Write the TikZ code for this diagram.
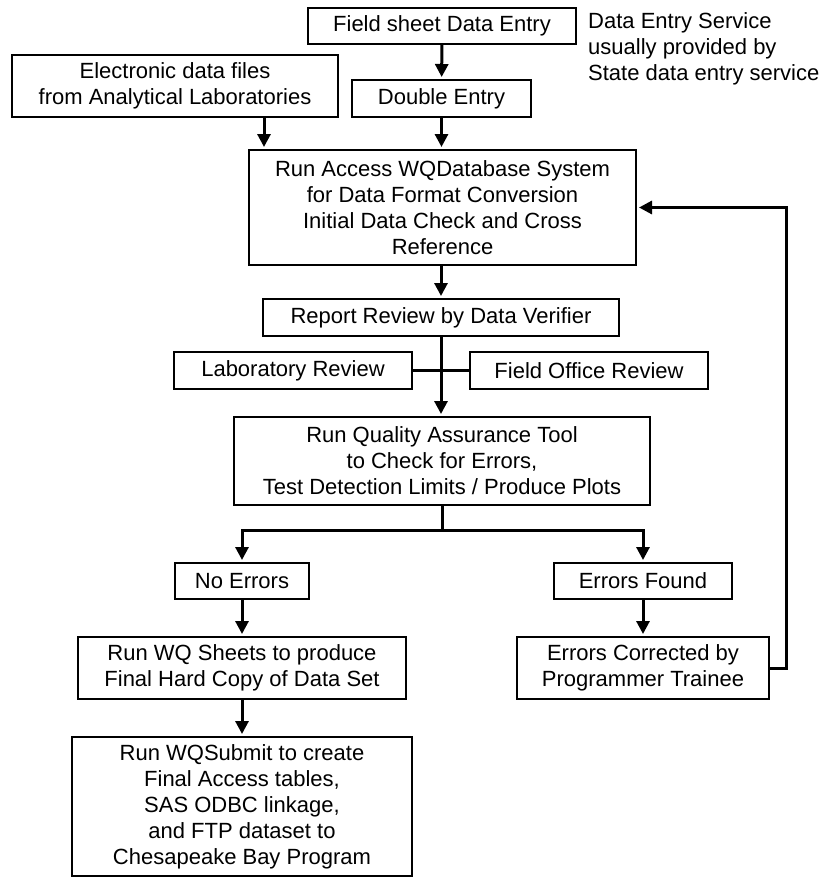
\documentclass[tikz,border=0pt]{standalone}
\usepackage{fontspec}
\setmainfont{Liberation Sans}
\usetikzlibrary{arrows.meta}

\tikzset{
  box/.style={draw, line width=2pt, align=center, inner sep=0pt, font=\fontsize{22}{26}\selectfont},
  arr/.style={line width=3pt, -{Triangle[length=13pt,width=13pt]}, shorten >=2pt},
  link/.style={line width=3pt}
}

\begin{document}
\begin{tikzpicture}[x=1pt, y=-1pt]

\useasboundingbox ( 0, 0 ) rectangle ( 820, 878 );

% Data entry
\node (field) at ( 442, 26 ) [box, minimum width=268pt, minimum height=36pt] {Field sheet Data Entry};
\node (elec) at ( 175, 86 ) [box, minimum width=326pt, minimum height=62pt] {Electronic data files\\from Analytical Laboratories};
\node (double) at ( 441.5, 98.5 ) [box, minimum width=179pt, minimum height=37pt] {Double Entry};
\node (note) at ( 588, 48.5 ) [anchor=west, align=left, inner sep=0pt, font=\fontsize{22}{26}\selectfont] {Data Entry Service\\usually provided by\\State data entry service};

% Database
\node (access) at ( 442.5, 207.5 ) [box, minimum width=387pt, minimum height=115pt] {Run Access WQDatabase System\\for Data Format Conversion\\Initial Data Check and Cross\\Reference};

% Review
\node (report) at ( 441, 317.5 ) [box, minimum width=356pt, minimum height=37pt] {Report Review by Data Verifier};
\node (lab) at ( 293, 370.5 ) [box, minimum width=238pt, minimum height=37pt] {Laboratory Review};
\node (office) at ( 589, 370.5 ) [box, minimum width=238pt, minimum height=37pt] {Field Office Review};

% Quality assurance
\node (qa) at ( 442, 461 ) [box, minimum width=416pt, minimum height=88pt] {Run Quality Assurance Tool\\to Check for Errors,\\Test Detection Limits / Produce Plots};

% Outcomes
\node (noerr) at ( 242, 581 ) [box, minimum width=134pt, minimum height=36pt] {No Errors};
\node (found) at ( 643, 581 ) [box, minimum width=178pt, minimum height=36pt] {Errors Found};
\node (sheets) at ( 242, 668 ) [box, minimum width=328pt, minimum height=62pt] {Run WQ Sheets to produce\\Final Hard Copy of Data Set};
\node (fixed) at ( 643, 668 ) [box, minimum width=252pt, minimum height=62pt] {Errors Corrected by\\Programmer Trainee};
\node (submit) at ( 242, 806.5 ) [box, minimum width=340pt, minimum height=139pt] {Run WQSubmit to create\\Final Access tables,\\SAS ODBC linkage,\\and FTP dataset to\\Chesapeake Bay Program};

% Helper points
\coordinate (elecin) at ([xshift=16pt]access.north west);
\coordinate (split) at ([yshift=-24pt]qa.south);
\coordinate (back) at ([xshift=16pt]fixed.east);

% Flow
\draw [arr] (field) -- (double);
\draw [arr] (elec.south -| elecin) -- (elecin);
\draw [arr] (double.south) -- (double.south |- access.north);
\draw [arr] (report.north |- access.south) -- (report.north);
\draw [link] (lab.east) -- (office.west);
\draw [arr] (report.south) -- (report.south |- qa.north);
\draw [link] (qa.south) -- (split);
\draw [arr] (split) -| (noerr.north);
\draw [arr] (split) -| (found.north);
\draw [arr] (noerr) -- (sheets);
\draw [arr] (found) -- (fixed);
\draw [arr] (sheets) -- (submit);

% Feedback loop
\draw [arr] (fixed.east) -- (back) |- (access.east);

\end{tikzpicture}
\end{document}
